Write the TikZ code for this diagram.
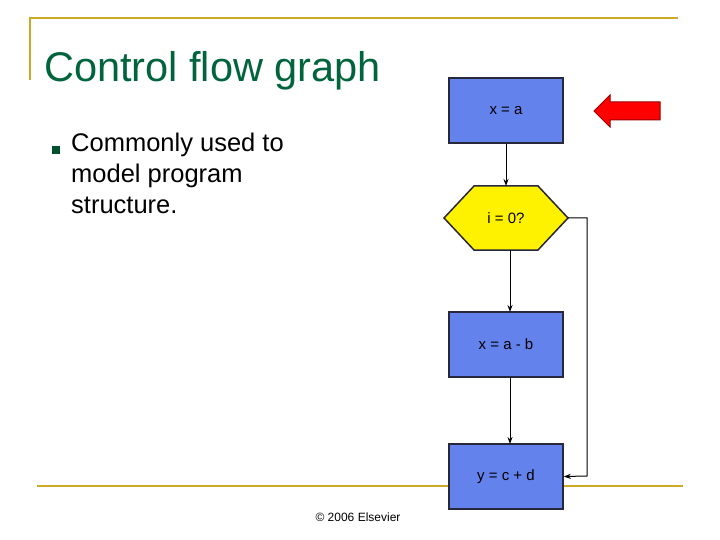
\documentclass[tikz,border=0pt]{standalone}
\usepackage{fontspec}
\setmainfont{Liberation Sans}
\usetikzlibrary{arrows.meta}
\definecolor{gold}{RGB}{204,170,40}
\definecolor{ttl}{RGB}{0,100,60}
\definecolor{bfill}{RGB}{100,130,235}
\definecolor{bdr}{RGB}{40,40,60}
\begin{document}
\begin{tikzpicture}[x=1pt,y=-1pt,
  blk/.style={draw=bdr,line width=1.5pt,fill=bfill,minimum width=114pt,minimum height=65pt,inner sep=0pt,font=\fontsize{15}{17}\selectfont},
  conn/.style={line width=1pt,-{Stealth[length=7pt,width=5pt]}}]
\useasboundingbox (0,0) rectangle (720,540);
\fill[white] (0,0) rectangle (720,540);
\draw[gold,line width=2.5pt] (30,80) -- (30,18) -- (678,18);
\draw[gold,line width=2.5pt] (37,486) -- (683,486);
\node[anchor=base west,text=ttl,inner sep=0pt,font=\fontsize{41.5}{46}\selectfont] (title) at (44,82) {Control flow graph};
\node[fill=ttl!80!black,minimum size=8pt,inner sep=0pt] (bul) at (56,150) {};
\node[anchor=north west,inner sep=0pt,align=left,font=\fontsize{25.5}{31}\selectfont] (txt) at (71,133) {Commonly used to\\model program\\structure.};
\node[blk] (a) at (506,110.5) {x = a};
\draw[bdr,line width=1.5pt,fill=yellow] (444,218) -- (474,186) -- (538,186) -- (568,218) -- (538,250) -- (474,250) -- cycle;
\node[font=\fontsize{15}{17}\selectfont] (h) at (506,218) {i = 0?};
\coordinate (hr) at (568,218);
\coordinate (h1) at (510,250);
\coordinate (b1) at (510,312);
\coordinate (b2) at (510,377);
\coordinate (c1) at (510,444);
\node[blk] (b) at (506,344.5) {x = a - b};
\node[blk] (c) at (506,476.5) {y = c + d};
\draw[conn] (a.south) -- (506,186);
\draw[conn] (h1) -- (b1);
\draw[conn] (b2) -- (c1);
\draw[conn] (hr) -- (587,218) -- (587,476) -- (c.east);
\draw[fill=red,draw=red!60!black,line width=1pt] (594,111) -- (610,95) -- (610,102) -- (660,102) -- (660,120) -- (610,120) -- (610,127) -- cycle;
\node[font=\fontsize{12}{14}\selectfont] (cp) at (358,517) {© 2006 Elsevier};
\end{tikzpicture}
\end{document}
